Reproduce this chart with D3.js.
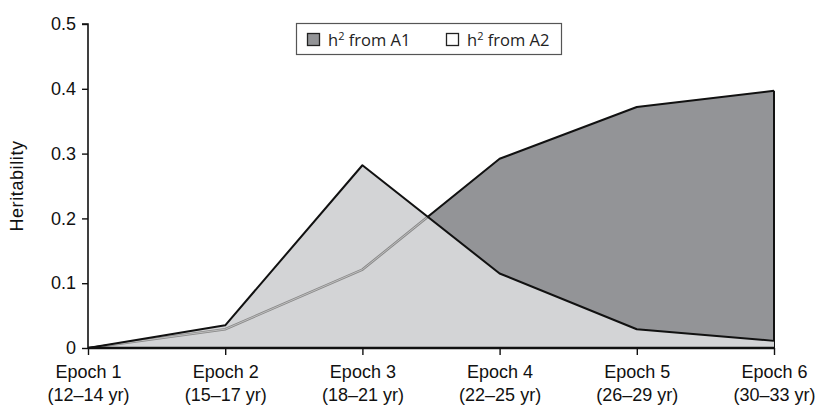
<!DOCTYPE html>
<html>
<head>
<meta charset="utf-8">
<script src="https://cdn.jsdelivr.net/npm/d3@7"></script>
<style>
  html, body { margin: 0; padding: 0; background: #fff; }
  svg { display: block; font-family: "Liberation Sans", Arial, sans-serif; }
</style>
</head>
<body>
<svg id="chart" width="817" height="406"></svg>
<script>
const epochs = ["Epoch 1", "Epoch 2", "Epoch 3", "Epoch 4", "Epoch 5", "Epoch 6"];
const ageRanges = ["(12\u201314 yr)", "(15\u201317 yr)", "(18\u201321 yr)", "(22\u201325 yr)", "(26\u201329 yr)", "(30\u201333 yr)"];
const h2A1 = [0, 0.029, 0.121, 0.292, 0.372, 0.397];
const h2A2 = [0, 0.035, 0.282, 0.115, 0.029, 0.011];
const yTicks = [0, 0.1, 0.2, 0.3, 0.4, 0.5];
const legendLabels = ["from A1", "from A2"];

(function () {
const svg = d3.select("#chart");
const mLeft = 88, mRight = 774, mTop = 24, mBottom = 348;

const x = d3.scalePoint().domain(epochs).range([mLeft, mRight]);
const y = d3.scaleLinear().domain([0, 0.5]).range([mBottom, mTop]);

const dark = "#939497", light = "#d3d4d6";

const area = vals => d3.area()
  .x((d, i) => x(epochs[i]))
  .y0(y(0))
  .y1(d => y(d))(vals);
const line = vals => d3.line()
  .x((d, i) => x(epochs[i]))
  .y(d => y(d))(vals);

const defs = svg.append("defs");
defs.append("clipPath").attr("id", "clipA2")
  .append("path").attr("d", area(h2A2));

// A1 area (dark)
svg.append("path").attr("d", area(h2A1)).attr("fill", dark).attr("stroke", "none");
svg.append("path").attr("d", line(h2A1)).attr("fill", "none").attr("stroke", "#111").attr("stroke-width", 2).attr("stroke-linejoin", "round");
svg.append("line")
  .attr("x1", x(epochs[5])).attr("x2", x(epochs[5]))
  .attr("y1", y(h2A1[5])).attr("y2", y(0))
  .attr("stroke", "#111").attr("stroke-width", 2);

// A2 area (light, opaque)
svg.append("path").attr("d", area(h2A2)).attr("fill", light).attr("stroke", "none");

// A1 line inside A2 area (gray)
const g2 = svg.append("g").attr("clip-path", "url(#clipA2)");
g2.append("path").attr("d", line(h2A1)).attr("fill", "none").attr("stroke", "#8a8a8a").attr("stroke-width", 2.6);
g2.append("path").attr("d", line(h2A1)).attr("fill", "none").attr("stroke", "#c4c4c4").attr("stroke-width", 0.9);

svg.append("path").attr("d", line(h2A2)).attr("fill", "none").attr("stroke", "#111").attr("stroke-width", 2).attr("stroke-linejoin", "round");

// Y axis
const yAxis = d3.axisLeft(y).tickValues(yTicks).tickSize(6).tickPadding(6)
  .tickFormat(d => d === 0 ? "0" : d3.format(".1f")(d));
const gy = svg.append("g").attr("transform", `translate(${mLeft},0)`).call(yAxis);
gy.select(".domain").attr("stroke", "#111").attr("stroke-width", 1.6).attr("d", `M-6,${mTop}H0V${mBottom}`);
gy.selectAll(".tick line").attr("stroke", "#111").attr("stroke-width", 1.4);
gy.selectAll(".tick text").attr("font-size", 18).attr("fill", "#111")
  .attr("font-family", "Liberation Sans, Arial, sans-serif");

// X axis
const xAxis = d3.axisBottom(x).tickSize(7).tickFormat("");
const gx = svg.append("g").attr("transform", `translate(0,${mBottom})`).call(xAxis);
gx.select(".domain").attr("stroke", "#111").attr("stroke-width", 2.4).attr("d", `M${mLeft},0H${mRight + 1}`);
gx.selectAll(".tick line").attr("stroke", "#111").attr("stroke-width", 1.4);
gx.selectAll(".tick").each(function(d, i) {
  const t = d3.select(this).append("text").attr("fill", "#111").attr("font-size", 18)
    .attr("text-anchor", "middle").attr("font-family", "Liberation Sans, Arial, sans-serif");
  t.append("tspan").attr("x", 0).attr("y", 30).text(epochs[i]);
  t.append("tspan").attr("x", 0).attr("y", 53).text(ageRanges[i]);
});

// Y axis label
svg.append("text")
  .attr("transform", `translate(23,186) rotate(-90)`)
  .attr("text-anchor", "middle").attr("font-size", 18).attr("fill", "#111")
  .attr("letter-spacing", 0.6)
  .text("Heritability");

// Legend
const lg = svg.append("g");
lg.append("rect").attr("x", 296.5).attr("y", 23.5).attr("width", 265).attr("height", 31)
  .attr("fill", "#fff").attr("stroke", "#555").attr("stroke-width", 1.2);
const items = [{fill: dark, label: legendLabels[0], x: 307}, {fill: "#fff", label: legendLabels[1], x: 446}];
items.forEach(it => {
  lg.append("rect").attr("x", it.x + 0.5).attr("y", 33.5).attr("width", 12).attr("height", 12)
    .attr("fill", it.fill).attr("stroke", "#222").attr("stroke-width", 1.3);
  const t = lg.append("text").attr("x", it.x + 21).attr("y", 45.5).attr("font-size", 16.5).attr("fill", "#222")
    .attr("font-family", "Open Sans, Noto Sans, sans-serif");
  t.append("tspan").text("h");
  t.append("tspan").attr("font-size", 11).attr("dy", -6).text("2");
  t.append("tspan").attr("dy", 6).text(" " + it.label);
});
})();
</script>
</body>
</html>
